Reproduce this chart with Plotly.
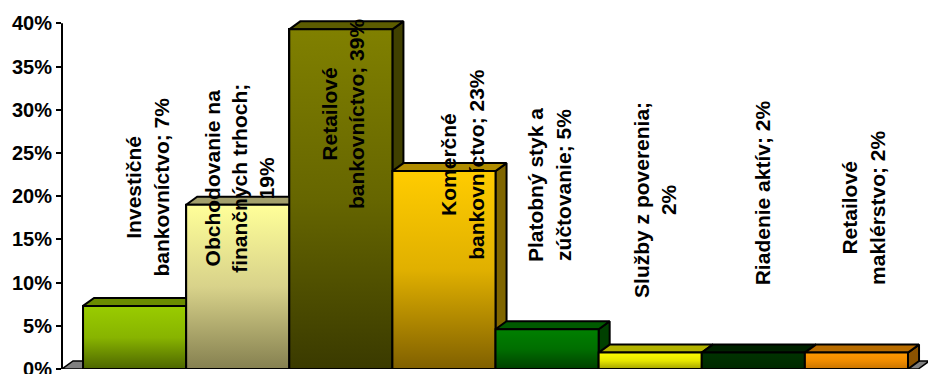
import plotly.graph_objects as go

# ---------------- data ----------------
categories = [
    "Investičné<br>bankovníctvo",
    "Obchodovanie na<br>finančných trhoch",
    "Retailové<br>bankovníctvo",
    "Komerčné<br>bankovníctvo",
    "Platobný styk a<br>zúčtovanie",
    "Služby z poverenia",
    "Riadenie aktív",
    "Retailové<br>maklérstvo",
]
values = [7.3, 19.0, 39.3, 22.9, 4.6, 1.9, 1.9, 1.9]
value_sep = [" ", "<br>", " ", " ", " ", "<br>", " ", " "]
tick_vals = [0, 5, 10, 15, 20, 25, 30, 35, 40]
tick_text = [f"{v}%" for v in tick_vals]

# ---------------- styles ----------------
front_top = ["#99cc00", "#ffff99", "#808000", "#ffcc00", "#008000", "#ffff00", "#003300", "#ff9900"]
front_mid = ["#88b400", "#d8d28a", "#666600", "#e0b000", "#006e00", "#e6e600", "#002e00", "#f08c00"]
front_bottom = ["#4d6600", "#858050", "#3a3a00", "#806000", "#004000", "#a3a300", "#002800", "#c87400"]
top_colors = ["#6b8c00", "#a39f6c", "#5c5c00", "#b08c00", "#005a00", "#b3b300", "#002200", "#b86c00"]
side_colors = ["#4d6600", "#7a7650", "#404000", "#806600", "#004000", "#8a8a00", "#001c00", "#8a5200"]
label_dx = [0.12, 0.02, 0.02, 0.18, 0.02, 0.04, 0.09, 0.07]
label_y = [21.1, 22.1, 29.6, 23.7, 21.3, 19.6, 20.4, 18.6]

DX, DY = 0.107, 0.926          # 3-D depth offset (category units, % units)
X_MIN, X_MAX = -0.704, 7.694
Y_MAX = 40.5
FONT = "Liberation Sans, Arial, sans-serif"
EDGE = dict(color="black", width=2)

idx = list(range(len(values)))

fig = go.Figure()

# floor
floor_r = idx[-1] + 0.6
fig.add_trace(go.Scatter(
    x=[X_MIN, floor_r, floor_r + DX, X_MIN + DX, X_MIN],
    y=[0, 0, DY, DY, 0],
    fill="toself", fillcolor="#808080", mode="lines",
    line=dict(color="black", width=1.5), hoverinfo="skip"))

# base bars (front faces)
fig.add_trace(go.Bar(
    x=idx, y=values, width=1,
    marker=dict(color=front_mid, line=EDGE),
    hovertext=categories, hoverinfo="text+y"))

# 3-D faces drawn left to right
for i, v in enumerate(values):
    l, r = i - 0.5, i + 0.5
    fig.add_trace(go.Scatter(
        x=[r, r, r + DX, r + DX, r], y=[0, v, v + DY, DY, 0],
        fill="toself", fillcolor=side_colors[i], mode="lines",
        line=EDGE, hoverinfo="skip"))
    fig.add_trace(go.Scatter(
        x=[l, r, r + DX, l + DX, l], y=[v, v, v + DY, v + DY, v],
        fill="toself", fillcolor=top_colors[i], mode="lines",
        line=EDGE, hoverinfo="skip"))
    fig.add_trace(go.Scatter(
        x=[l, r, r, l, l], y=[0, 0, v, v, 0],
        fill="toself", mode="lines", line=EDGE, hoverinfo="skip",
        fillcolor=front_mid[i],
        fillgradient=dict(type="vertical",
                          colorscale=[[0, front_bottom[i]], [0.5, front_mid[i]], [1, front_top[i]]])))

# data labels
for i, v in enumerate(values):
    fig.add_annotation(
        x=i + label_dx[i], y=label_y[i],
        text=f"{categories[i]};{value_sep[i]}{round(v)}%",
        textangle=-90, showarrow=False, xanchor="center", yanchor="middle",
        align="center",
        font=dict(family=FONT, size=21, color="black", weight="bold"))

# value axis line
fig.add_shape(type="line", xref="paper", yref="y", x0=0, x1=0, y0=0, y1=40,
              line=dict(color="black", width=2))

fig.update_layout(
    width=928, height=374,
    margin=dict(l=62, r=0, t=19, b=5, autoexpand=False),
    paper_bgcolor="white", plot_bgcolor="white",
    showlegend=False, bargap=0,
    xaxis=dict(range=[X_MIN, X_MAX], visible=False, fixedrange=True, automargin=False),
    yaxis=dict(range=[0, Y_MAX], tickvals=tick_vals, ticktext=tick_text,
               ticks="outside", ticklen=5, tickwidth=2, tickcolor="black",
               showline=False, showgrid=False, zeroline=False,
               ticklabeloverflow="allow", automargin=False,
               tickfont=dict(family=FONT, size=20, color="black", weight="bold")),
)

fig.write_html("out.html")
